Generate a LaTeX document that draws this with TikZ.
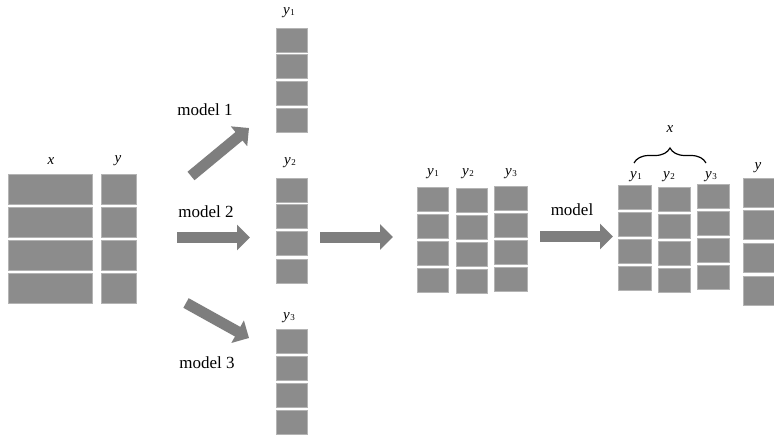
\documentclass[tikz,border=0pt]{standalone}
\usepackage{fontspec}
\setmainfont{Liberation Serif}
\usetikzlibrary{arrows.meta,decorations.pathreplacing}
\definecolor{cellgray}{HTML}{8C8C8C}
\definecolor{celledge}{HTML}{B4B4B4}
\definecolor{arrgray}{HTML}{7E7E7E}
\newcommand\ysub[1]{\textit{y}\kern0.5pt\raisebox{-0.1ex}{\scalebox{0.6}{#1}}}
\tikzset{
  cell/.style={rectangle, fill=cellgray, draw=celledge, line width=0.6pt, inner sep=0pt},
  lbl/.style={inner sep=0pt, font=\fontsize{15}{15}\selectfont},
  mtext/.style={inner sep=0pt, font=\fontsize{17}{17}\selectfont},
  fatarrow/.style={draw=arrgray, line width=11pt, -{Triangle[length=13pt,width=25pt]}}
}
\begin{document}
\begin{tikzpicture}[x=1pt,y=-1pt]
\clip (0,0) rectangle (774,439);
\fill[white] (0,0) rectangle (774,439);
% left input block
\foreach \i/\yc in {1/189.5,2/222.5,3/255.5,4/288.5}{
  \node[cell, minimum width=84pt, minimum height=29.5pt] (LX\i) at (50,\yc) {};
  \node[cell, minimum width=35pt, minimum height=29.5pt] (LY\i) at (118.5,\yc) {};
}
\node[lbl] (lx) at (51,161) {\textit{x}};
\node[lbl] (ly) at (118,161) {\textit{y}};
% y1 column
\foreach \i/\yc in {1/40,2/66.5,3/93.5,4/120.5}{
  \node[cell, minimum width=31pt, minimum height=24pt] (A\i) at (291.5,\yc) {};
}
\node[lbl] (la) at (289,13) {\ysub{1}};
% y2 column
\foreach \i/\yc in {1/190,2/216.5,3/243.5,4/271.5}{
  \node[cell, minimum width=31pt, minimum height=24pt] (B\i) at (292,\yc) {};
}
\node[lbl] (lb) at (290,163) {\ysub{2}};
% y3 column
\foreach \i/\yc in {1/341.5,2/368.5,3/395.5,4/422.5}{
  \node[cell, minimum width=31pt, minimum height=24pt] (C\i) at (292,\yc) {};
}
\node[lbl] (lc) at (289,318) {\ysub{3}};
% middle block
\foreach \i/\ya/\yb/\ycc in {1/199.5/200.5/198.5,2/226.5/227.5/225.5,3/253.5/254.5/252.5,4/280.5/281.5/279.5}{
  \node[cell, minimum width=31pt, minimum height=24pt] (M1\i) at (432.5,\ya) {};
  \node[cell, minimum width=31pt, minimum height=24pt] (M2\i) at (471.5,\yb) {};
  \node[cell, minimum width=33pt, minimum height=24pt] (M3\i) at (510.5,\ycc) {};
}
\node[lbl] (lm1) at (433,174) {\ysub{1}};
\node[lbl] (lm2) at (468,174) {\ysub{2}};
\node[lbl] (lm3) at (511,174) {\ysub{3}};
% right block
\foreach \i/\ya/\yb/\ycc in {1/197/199/196,2/224/226/223,3/251/253/250,4/278/280/277}{
  \node[cell, minimum width=33pt, minimum height=24pt] (R1\i) at (634.5,\ya) {};
  \node[cell, minimum width=32pt, minimum height=24pt] (R2\i) at (674,\yb) {};
  \node[cell, minimum width=32pt, minimum height=24pt] (R3\i) at (713,\ycc) {};
}
\foreach \i/\yc in {1/192.5,2/225,3/258,4/291}{
  \node[cell, minimum width=45pt, minimum height=29pt] (RY\i) at (765.5,\yc) {};
}
\node[lbl] (lr1) at (636,177) {\ysub{1}};
\node[lbl] (lr2) at (669,177) {\ysub{2}};
\node[lbl] (lr3) at (711,177) {\ysub{3}};
\node[lbl] (lry) at (758,168) {\textit{y}};
\coordinate (brL) at (634,163);
\coordinate (brR) at (706,163);
\draw[line width=1.2pt, decoration={brace,amplitude=15pt,aspect=0.5}, decorate] (brL) -- (brR);
\node[lbl] (lrx) at (670,129) {\textit{x}};
% model texts
\node[mtext] (m1) at (205,110) {model 1};
\node[mtext] (m2) at (206,212) {model 2};
\node[mtext] (m3) at (207,363) {model 3};
\node[mtext] (m4) at (572,210) {model};
% arrows
\coordinate (a1s) at (191,176);
\coordinate (a1e) at (249,128);
\coordinate (a2s) at (177,237.5);
\coordinate (a2e) at (250,237.5);
\coordinate (a3s) at (186,303);
\coordinate (a3e) at (249,338);
\coordinate (a4s) at (320,237);
\coordinate (a4e) at (393,237);
\coordinate (a5s) at (540,236.5);
\coordinate (a5e) at (613,236.5);
\draw[fatarrow] (a1s) -- (a1e);
\draw[fatarrow] (a2s) -- (a2e);
\draw[fatarrow] (a3s) -- (a3e);
\draw[fatarrow] (a4s) -- (a4e);
\draw[fatarrow] (a5s) -- (a5e);
\end{tikzpicture}
\end{document}
